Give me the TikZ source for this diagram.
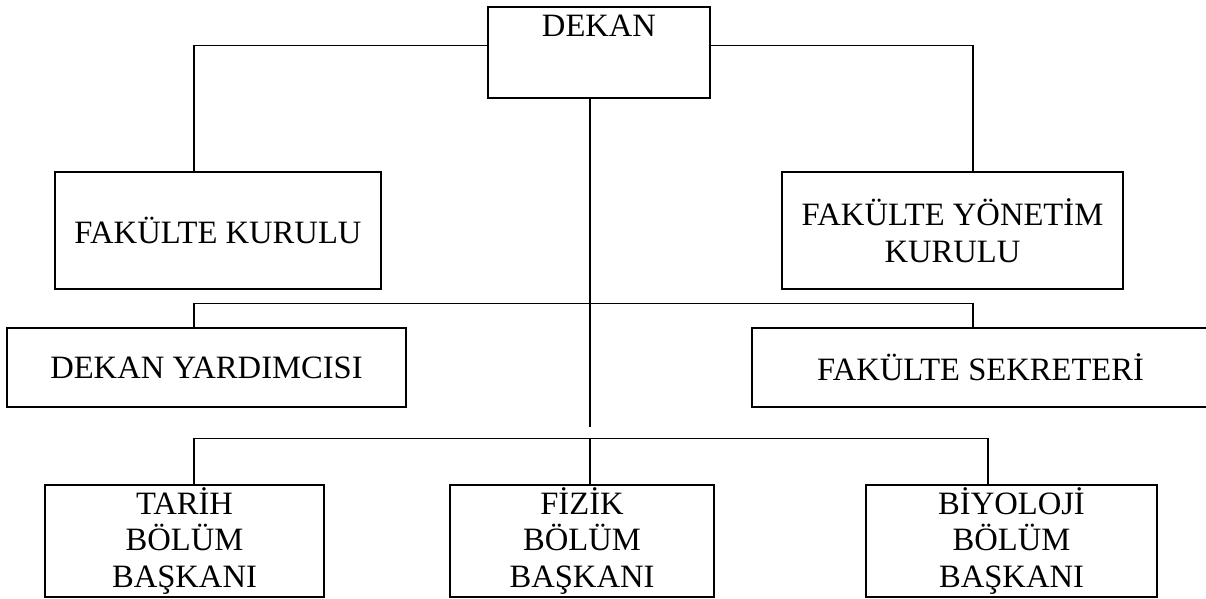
\documentclass[tikz,border=0pt]{standalone}
\usepackage{fontspec}
\setmainfont{Liberation Serif}
\begin{document}
\begin{tikzpicture}[x=1pt,y=-1pt,
  orgbox/.style={draw=black, line width=2pt, inner sep=0pt, align=center,
    font=\fontsize{32.6}{36.5}\selectfont},
  link/.style={draw=black, line width=1.4pt}]
\useasboundingbox (0,0) rectangle (1206,598);
% boxes
\node[orgbox, minimum width=222pt, text height=29pt, text depth=62pt, anchor=north] (dekan) at (599,6) {DEKAN};
\node[orgbox, minimum width=326pt, minimum height=117pt] (fk) at (218,230.5) {FAKÜLTE KURULU};
\node[orgbox, minimum width=341pt, minimum height=117pt] (fyk) at (952.5,230.5) {FAKÜLTE YÖNETİM\\KURULU};
\node[orgbox, minimum width=399pt, minimum height=79pt] (dy) at (206.5,367.5) {DEKAN YARDIMCISI};
\node[orgbox, minimum width=457pt, minimum height=79pt] (fs) at (980.5,367.5) {FAKÜLTE SEKRETERİ};
\node[orgbox, minimum width=279pt, minimum height=112pt] (tarih) at (184.5,540.6) {TARİH\\BÖLÜM\\BAŞKANI};
\node[orgbox, minimum width=264pt, minimum height=112pt] (fizik) at (582,540.6) {FİZİK\\BÖLÜM\\BAŞKANI};
\node[orgbox, minimum width=291pt, minimum height=112pt] (biyo) at (1011.5,540.6) {BİYOLOJİ\\BÖLÜM\\BAŞKANI};
% junction points
\coordinate (jl) at (194,45.7);
\coordinate (jr) at (973,45.7);
\coordinate (cend) at (590,427.3);
\coordinate (m1) at (194,303.3);
\coordinate (m2) at (973,303.3);
\coordinate (b1) at (194,438.3);
\coordinate (b0) at (590,438.3);
\coordinate (b2) at (988,438.3);
% connectors
\draw[link] (dekan.west |- jl) -- (jl) -- (jl |- fk.north);
\draw[link] (dekan.east |- jr) -- (jr) -- (jr |- fyk.north);
\draw[link] (cend |- dekan.south) -- (cend);
\draw[link] (m1 |- dy.north) -- (m1) -- (m2) -- (m2 |- fs.north);
\draw[link] (b1 |- tarih.north) -- (b1) -- (b2) -- (b2 |- biyo.north);
\draw[link] (b0) -- (b0 |- fizik.north);
\end{tikzpicture}
\end{document}
